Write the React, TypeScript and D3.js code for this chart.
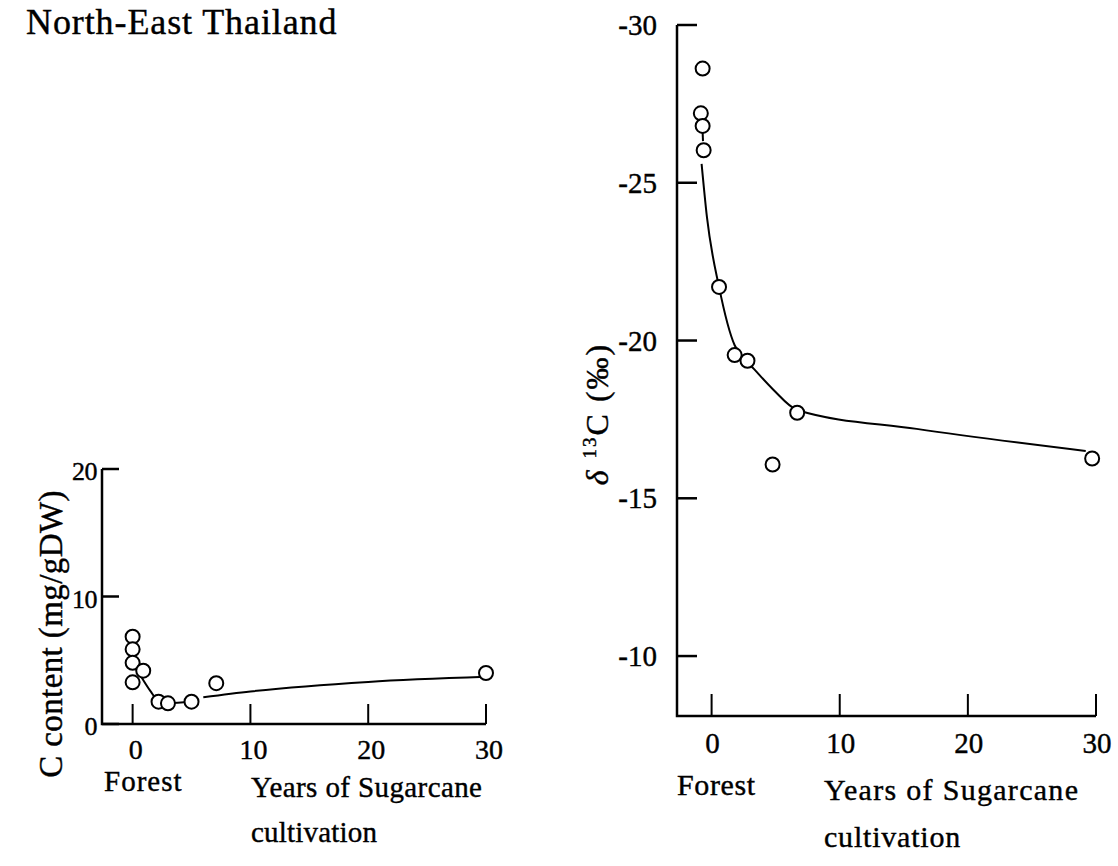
import * as d3 from 'd3';

// ─── Data ────────────────────────────────────────────────────────────────────
// Left panel: soil C content (mg/gDW) vs years of sugarcane (forest at 0)
const leftYears = [0, 0, 0, 0, 0.9, 2.2, 3.0, 5.0, 7.1, 30];
const leftCarbon = [6.85, 5.86, 4.8, 3.27, 4.18, 1.75, 1.62, 1.75, 3.2, 4.0];
// fitted curve (drawn in two pieces in the original)
const leftFitA: [number, number][] = [[0.7, 3.75], [1.5, 2.6], [2.2, 1.8], [3.0, 1.65], [5.0, 1.75]];
const leftFitB: [number, number][] = [[6.0, 2.1], [10, 2.55], [20, 3.3], [30, 3.7]];
const leftYTicks = [0, 10, 20];

// Right panel: δ13C (‰) vs years of sugarcane
const rightYears = [-0.7, -0.84, -0.7, -0.62, 0.58, 1.8, 2.8, 4.76, 6.68, 29.7];
const rightDelta = [-28.62, -27.2, -26.8, -26.03, -21.7, -19.54, -19.36, -16.07, -17.71, -16.26];
const rightFit: [number, number][] = [
  [-0.78, -25.6], [-0.36, -23.9], [0.58, -21.7], [1.8, -19.85], [2.5, -19.45],
  [3.3, -19.1], [4.8, -18.45], [6.68, -17.8], [16, -17.2], [29.2, -16.5],
];
const rightFitStub: [number, number][] = [[-0.7, -26.6], [-0.67, -26.32]];
const rightYTicks = [-30, -25, -20, -15, -10];

const xTicks = [0, 10, 20, 30];

const CSS = `
  svg text { font-family: 'Liberation Serif', 'Times New Roman', Times, serif; stroke: #000; stroke-width: 0.4px; }
`;

export default function App() {
  // ── Scales ────────────────────────────────────────────────────────────────
  const xL = d3.scaleLinear().domain([-2.6, 30]).range([102, 486]);
  const yL = d3.scaleLinear().domain([0, 20]).range([724, 469]);
  const xR = d3.scaleLinear().domain([-2.7, 30]).range([677, 1096]);
  const yR = d3.scaleLinear().domain([-30, -8.1]).range([25, 716]);

  const lineL = d3.line<[number, number]>()
    .x(d => xL(d[0])).y(d => yL(d[1]))
    .curve(d3.curveMonotoneX);
  const lineR = d3.line<[number, number]>()
    .x(d => xR(d[0])).y(d => yR(d[1]))
    .curve(d3.curveMonotoneX);

  const axisStroke = 2.5;

  const lx0 = xL.range()[0], lx1 = xL(30), ly0 = yL(0), lyTop = yL(20);
  const rx0 = xR.range()[0], rx1 = xR(30), ry0 = yR.range()[1], ryTop = yR(-30);

  return (
    <svg width={1118} height={866} style={{ position: 'absolute', left: 0, top: 0, background: '#fff' }} fill="#000">
      <style>{CSS}</style>
      <rect width={1118} height={866} fill="#fff" />

      {/* Título */}
      <text x={26} y={34} fontSize={36} letterSpacing={0.9}>North-East Thailand</text>

      {/* ── Panel izquierdo ─────────────────────────────────────────────── */}
      <path d={`M${lx0},${lyTop}V${ly0}H${lx1}`} fill="none" stroke="#000" strokeWidth={axisStroke} />
      {leftYTicks.map(t => (
        <g key={`ly${t}`}>
          <line x1={lx0} x2={lx0 + 17} y1={yL(t)} y2={yL(t)} stroke="#000" strokeWidth={axisStroke} />
          <text x={lx0 - 5} y={yL(t) + 2} dy="0.35em" textAnchor="end" fontSize={26} letterSpacing={-0.5}>{t}</text>
        </g>
      ))}
      {xTicks.map(t => (
        <g key={`lx${t}`}>
          <line x1={xL(t)} x2={xL(t)} y1={ly0} y2={ly0 - 20} stroke="#000" strokeWidth={2} />
          <text x={xL(t) + 3} y={759} textAnchor="middle" fontSize={28}>{t}</text>
        </g>
      ))}
      <path d={lineL(leftFitA) ?? ''} fill="none" stroke="#000" strokeWidth={2} />
      <path d={lineL(leftFitB) ?? ''} fill="none" stroke="#000" strokeWidth={2} />
      {leftYears.map((yr, i) => (
        <circle key={`lp${i}`} cx={xL(yr)} cy={yL(leftCarbon[i])} r={7}
          fill="#fff" stroke="#000" strokeWidth={2} />
      ))}
      <text transform={`translate(62,634) rotate(-90)`} textAnchor="middle" fontSize={33} letterSpacing={0.4}>
        C content (mg/gDW)
      </text>
      <text x={104} y={791} fontSize={29} letterSpacing={1}>Forest</text>
      <text x={251} y={797} fontSize={29} letterSpacing={0.4}>Years of Sugarcane</text>
      <text x={251} y={842} fontSize={29} letterSpacing={0.2}>cultivation</text>

      {/* ── Panel derecho ───────────────────────────────────────────────── */}
      <path d={`M${rx0},${ryTop}V${ry0}H${rx1}`} fill="none" stroke="#000" strokeWidth={axisStroke} />
      {rightYTicks.map(t => (
        <g key={`ry${t}`}>
          <line x1={rx0} x2={rx0 + 20} y1={yR(t)} y2={yR(t)} stroke="#000" strokeWidth={axisStroke} />
          <text x={rx0 - 20} y={yR(t)} dy="0.35em" textAnchor="end" fontSize={29}>{t}</text>
        </g>
      ))}
      {xTicks.map(t => (
        <g key={`rx${t}`}>
          <line x1={xR(t)} x2={xR(t)} y1={ry0} y2={ry0 - 22} stroke="#000" strokeWidth={2} />
          <text x={xR(t) + 1} y={753} textAnchor="middle" fontSize={29}>{t}</text>
        </g>
      ))}
      <path d={lineR(rightFit) ?? ''} fill="none" stroke="#000" strokeWidth={2} />
      <path d={lineR(rightFitStub) ?? ''} fill="none" stroke="#000" strokeWidth={2} />
      {rightYears.map((yr, i) => (
        <circle key={`rp${i}`} cx={xR(yr)} cy={yR(rightDelta[i])} r={7}
          fill="#fff" stroke="#000" strokeWidth={2} />
      ))}
      <text transform={`translate(608,414) rotate(-90)`} textAnchor="middle" fontSize={32} letterSpacing={2}>
        <tspan fontStyle="italic">δ</tspan>
        <tspan> </tspan>
        <tspan dy={-12} fontSize={19}>13</tspan>
        <tspan dy={12}>C (‰)</tspan>
      </text>
      <text x={677} y={795} fontSize={30} letterSpacing={0.6}>Forest</text>
      <text x={824} y={800} fontSize={30} letterSpacing={1.3}>Years of Sugarcane</text>
      <text x={824} y={847} fontSize={30} letterSpacing={0.8}>cultivation</text>
    </svg>
  );
}
